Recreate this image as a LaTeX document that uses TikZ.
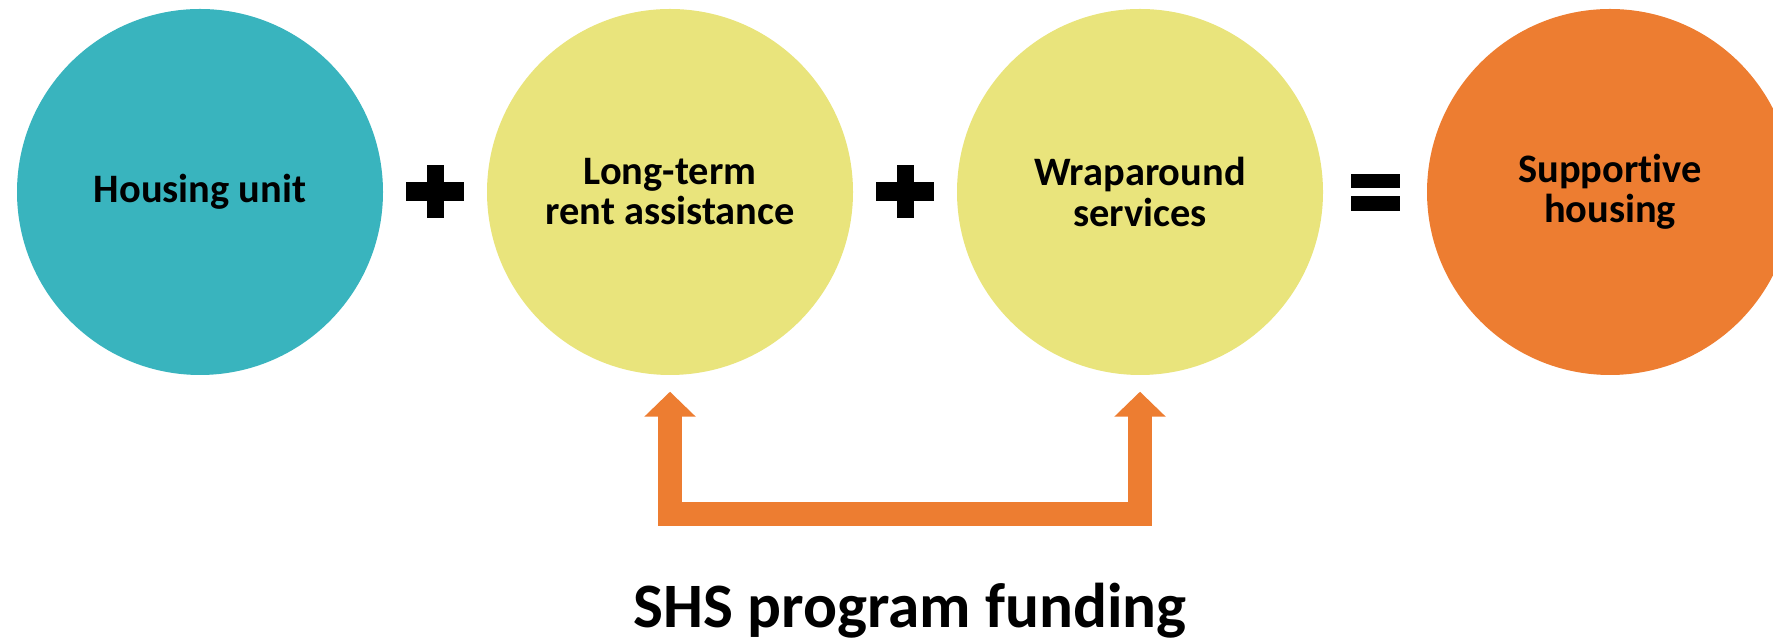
\documentclass[tikz,border=0pt]{standalone}
\usepackage{fontspec}
\setmainfont[Ligatures=NoCommon]{Carlito}
\usepackage{tikz}
\usetikzlibrary{shapes.geometric, arrows.meta, calc}
\definecolor{tealblue}{RGB}{57,180,190}
\definecolor{paleyellow}{RGB}{233,228,124}
\definecolor{warmorange}{RGB}{237,125,49}
\tikzstyle{part} = [circle, minimum size=3.66cm, inner sep=0pt, text centered, align=center, font=\bfseries\fontsize{11.5}{11.4}\selectfont]
\tikzstyle{unit} = [part, fill=tealblue]
\tikzstyle{support} = [part, fill=paleyellow]
\tikzstyle{result} = [part, fill=warmorange]
\tikzstyle{funding} = [draw=warmorange, line width=0.24cm, >={Triangle[width=5mm,length=2.5mm]}, <->, shorten <=0.16cm, shorten >=0.16cm]
\tikzset{
  plussign/.pic={\fill (-0.29,-0.095) rectangle (0.29,0.095); \fill (-0.085,-0.265) rectangle (0.085,0.265);},
  equalsign/.pic={\fill (-0.245,0.04) rectangle (0.245,0.18); \fill (-0.245,-0.04) rectangle (0.245,-0.19);}
}

\begin{document}
\begin{tikzpicture}
			[node distance=4.7cm]
			\useasboundingbox (0,0) rectangle (17.73,-6.39);

			\node (house) [unit] at (2.0,-1.92) {Housing unit};
			\node (rent) [support, right of = house] {Long-term\\rent assistance};
			\node (wrap) [support, right of = rent] {Wraparound\\services};
			\node (supp) [result, right of = wrap] {Supportive\\housing};

			\pic at ($(house)!0.5!(rent)$) {plussign};
			\pic at ($(rent)!0.5!(wrap)$) {plussign};
			\pic at ($(wrap)!0.5!(supp)$) {equalsign};

			\draw [funding] (rent.south) -- ++(0,-1.385) -| (wrap.south);
			\node (shs) [anchor=base, font=\bfseries\fontsize{18}{20}\selectfont] at (9.1,-6.28) {SHS program funding};

			\end{tikzpicture}
\end{document}
